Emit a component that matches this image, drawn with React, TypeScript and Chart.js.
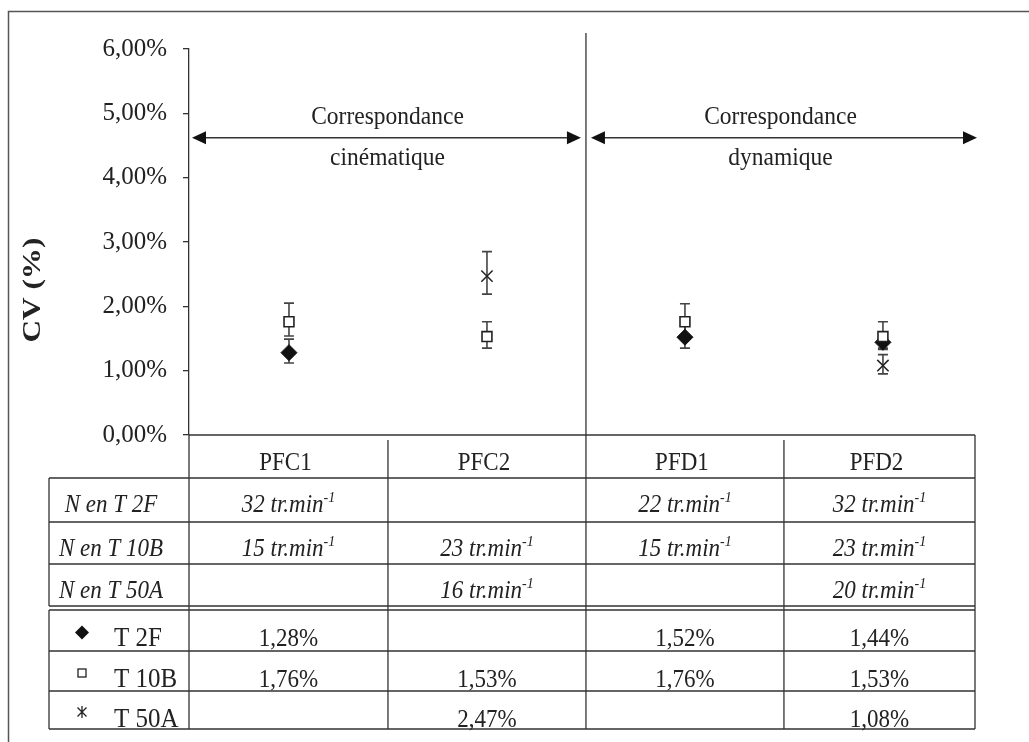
import React, { useEffect, useRef } from 'react';
import { Chart, registerables } from 'chart.js';

Chart.register(...registerables);

const FONT = '"Liberation Serif", "Times New Roman", Times, serif';
const INK = '#222';
const LINE = '#333';
const STRETCH = 1.1;

const categories = ['PFC1', 'PFC2', 'PFD1', 'PFD2'];
const seriesNames = ['T 2F', 'T 10B', 'T 50A'];

const t2fValues = [1.28, null, 1.52, 1.44];
const t2fErrPlus = [0.21, null, 0.2, 0.09];
const t2fErrMinus = [0.16, null, 0.17, 0.09];

const t10bValues = [1.76, 1.53, 1.76, 1.53];
const t10bErrPlus = [0.29, 0.23, 0.28, 0.23];
const t10bErrMinus = [0.22, 0.18, 0.25, 0.2];

const t50aValues = [null, 2.47, null, 1.08];
const t50aErrPlus = [null, 0.38, null, 0.17];
const t50aErrMinus = [null, 0.28, null, 0.13];

const yMin = 0;
const yMax = 6;
const yStep = 1;

const speedLabels = ['N en T 2F', 'N en T 10B', 'N en T 50A'];
const speedT2F = ['32', '', '22', '32'];
const speedT10B = ['15', '23', '15', '23'];
const speedT50A = ['', '16', '', '20'];
const speedUnit = 'tr.min';
const speedExp = '-1';

const zoneLeft = ['Correspondance', 'cinématique'];
const zoneRight = ['Correspondance', 'dynamique'];
const zoneArrowValue = 4.62;
const yTitle = 'CV (%)';

const fmt = (v: number) => v.toFixed(2).replace('.', ',') + '%';

const series = [
  { name: seriesNames[0], values: t2fValues, plus: t2fErrPlus, minus: t2fErrMinus, marker: 'diamond' },
  { name: seriesNames[1], values: t10bValues, plus: t10bErrPlus, minus: t10bErrMinus, marker: 'square' },
  { name: seriesNames[2], values: t50aValues, plus: t50aErrPlus, minus: t50aErrMinus, marker: 'cross' },
];
const speedRows = [speedT2F, speedT10B, speedT50A];

function toPoints(vals: (number | null)[]) {
  const out: { x: number; y: number }[] = [];
  vals.forEach((v, i) => {
    if (v != null) out.push({ x: i, y: v });
  });
  return out;
}

function text(ctx: CanvasRenderingContext2D, s: string, x: number, y: number) {
  ctx.save();
  ctx.translate(x, y);
  ctx.scale(1, STRETCH);
  ctx.fillText(s, 0, 0);
  ctx.restore();
}

function drawMarker(ctx: CanvasRenderingContext2D, kind: string, x: number, y: number) {
  ctx.save();
  ctx.fillStyle = '#111';
  ctx.strokeStyle = '#222';
  ctx.lineWidth = 1.3;
  if (kind === 'diamond') {
    ctx.beginPath();
    ctx.moveTo(x, y - 7);
    ctx.lineTo(x + 7, y);
    ctx.lineTo(x, y + 7);
    ctx.lineTo(x - 7, y);
    ctx.closePath();
    ctx.fill();
  } else if (kind === 'square') {
    ctx.strokeRect(x - 4, y - 4, 8, 8);
  } else {
    ctx.beginPath();
    ctx.moveTo(x - 4.5, y - 4.5);
    ctx.lineTo(x + 4.5, y + 4.5);
    ctx.moveTo(x + 4.5, y - 4.5);
    ctx.lineTo(x - 4.5, y + 4.5);
    ctx.moveTo(x, y - 6);
    ctx.lineTo(x, y + 6);
    ctx.stroke();
  }
  ctx.restore();
}

function drawSpeed(ctx: CanvasRenderingContext2D, cx: number, base: number, num: string) {
  if (!num) return;
  const main = `${num} ${speedUnit}`;
  ctx.font = `italic 23px ${FONT}`;
  const w1 = ctx.measureText(main).width;
  ctx.font = `italic 14px ${FONT}`;
  const w2 = ctx.measureText(speedExp).width;
  const start = cx - (w1 + w2) / 2;
  ctx.textAlign = 'left';
  ctx.textBaseline = 'alphabetic';
  ctx.font = `italic 23px ${FONT}`;
  text(ctx, main, start, base);
  ctx.font = `italic 14px ${FONT}`;
  text(ctx, speedExp, start + w1, base - 10);
}

function drawArrow(ctx: CanvasRenderingContext2D, x1: number, x2: number, y: number) {
  ctx.beginPath();
  ctx.moveTo(x1 + 10, y);
  ctx.lineTo(x2 - 10, y);
  ctx.stroke();
  ctx.beginPath();
  ctx.moveTo(x1, y);
  ctx.lineTo(x1 + 14, y - 6.5);
  ctx.lineTo(x1 + 14, y + 6.5);
  ctx.closePath();
  ctx.fill();
  ctx.beginPath();
  ctx.moveTo(x2, y);
  ctx.lineTo(x2 - 14, y - 6.5);
  ctx.lineTo(x2 - 14, y + 6.5);
  ctx.closePath();
  ctx.fill();
}

const overlayPlugin = {
  id: 'overlay',
  beforeDatasetsDraw(chart: any) {
    const ctx: CanvasRenderingContext2D = chart.ctx;
    const xs = chart.scales.x;
    const ys = chart.scales.y;
    ctx.save();
    ctx.strokeStyle = '#444';
    ctx.lineWidth = 1.6;
    series.forEach((s) => {
      s.values.forEach((v, i) => {
        if (v == null) return;
        const x = xs.getPixelForValue(i);
        const yt = ys.getPixelForValue(v + (s.plus[i] as number));
        const yb = ys.getPixelForValue(v - (s.minus[i] as number));
        ctx.beginPath();
        ctx.moveTo(x, yt);
        ctx.lineTo(x, yb);
        ctx.moveTo(x - 5, yt);
        ctx.lineTo(x + 5, yt);
        ctx.moveTo(x - 5, yb);
        ctx.lineTo(x + 5, yb);
        ctx.stroke();
      });
    });
    ctx.restore();
  },
  afterDraw(chart: any) {
    const ctx: CanvasRenderingContext2D = chart.ctx;
    const { left, right, top, bottom } = chart.chartArea;
    const xs = chart.scales.x;
    const ys = chart.scales.y;
    const cols = [left, xs.getPixelForValue(0.5), xs.getPixelForValue(1.5), xs.getPixelForValue(2.5), right];
    const divider = cols[2];
    const tableLeft = 49;

    ctx.save();
    // outer frame
    ctx.strokeStyle = '#555';
    ctx.lineWidth = 1.5;
    ctx.strokeRect(8.5, 11.5, 1100, 800);

    ctx.strokeStyle = LINE;
    ctx.lineWidth = 1.3;
    // x axis line
    ctx.beginPath();
    ctx.moveTo(left, bottom);
    ctx.lineTo(right, bottom);
    ctx.stroke();

    // divider
    ctx.beginPath();
    ctx.moveTo(divider, top - 16);
    ctx.lineTo(divider, bottom + 294);
    ctx.stroke();

    // zone arrows
    const ay = ys.getPixelForValue(zoneArrowValue);
    ctx.fillStyle = '#111';
    ctx.strokeStyle = '#333';
    ctx.lineWidth = 1.5;
    drawArrow(ctx, left + 3, divider - 5, ay);
    drawArrow(ctx, divider + 5, right + 2, ay);

    ctx.fillStyle = INK;
    ctx.font = `23.5px ${FONT}`;
    ctx.textAlign = 'center';
    ctx.textBaseline = 'alphabetic';
    const lc = (left + divider) / 2;
    const rc = (divider + right) / 2;
    text(ctx, zoneLeft[0], lc, ay - 14);
    text(ctx, zoneLeft[1], lc, ay + 27);
    text(ctx, zoneRight[0], rc, ay - 14);
    text(ctx, zoneRight[1], rc, ay + 27);

    // y title
    ctx.save();
    ctx.translate(40, 290);
    ctx.rotate(-Math.PI / 2);
    ctx.scale(1.25, 1);
    ctx.font = `bold 25px ${FONT}`;
    ctx.textAlign = 'center';
    ctx.textBaseline = 'alphabetic';
    ctx.fillText(yTitle, 0, 0);
    ctx.restore();

    // table geometry
    const hdrB = bottom + 43;
    const nRows = [hdrB, bottom + 87, bottom + 129, bottom + 171];
    const lRows = [bottom + 175, bottom + 216, bottom + 256, bottom + 294];

    ctx.strokeStyle = LINE;
    ctx.lineWidth = 1.3;
    ctx.beginPath();
    // verticals
    ctx.moveTo(left, bottom);
    ctx.lineTo(left, lRows[3]);
    ctx.moveTo(cols[1], bottom + 5);
    ctx.lineTo(cols[1], lRows[3]);
    ctx.moveTo(cols[3], bottom + 5);
    ctx.lineTo(cols[3], lRows[3]);
    ctx.moveTo(right, bottom);
    ctx.lineTo(right, lRows[3]);
    ctx.moveTo(tableLeft, nRows[0]);
    ctx.lineTo(tableLeft, nRows[3]);
    ctx.moveTo(tableLeft, lRows[0]);
    ctx.lineTo(tableLeft, lRows[3]);
    // horizontals
    [...nRows, ...lRows].forEach((y) => {
      ctx.moveTo(tableLeft, y);
      ctx.lineTo(right, y);
    });
    ctx.stroke();

    // header
    ctx.fillStyle = INK;
    ctx.font = `23px ${FONT}`;
    ctx.textAlign = 'center';
    categories.forEach((c, i) => {
      text(ctx, c, (cols[i] + cols[i + 1]) / 2 - 3, bottom + 35);
    });

    // speed rows
    speedLabels.forEach((lab, r) => {
      const base = nRows[r] + 34;
      ctx.font = `italic 23px ${FONT}`;
      ctx.textAlign = 'center';
      text(ctx, lab, 111, base);
      speedRows[r].forEach((n, i) => drawSpeed(ctx, (cols[i] + cols[i + 1]) / 2, base, n));
    });

    // legend/value rows
    series.forEach((s, r) => {
      const base = lRows[r] + 36;
      const mid = (lRows[r] + lRows[r + 1]) / 2;
      drawMarker(ctx, s.marker, 82, mid + 2);
      ctx.fillStyle = INK;
      ctx.font = `25px ${FONT}`;
      ctx.textAlign = 'left';
      text(ctx, s.name, 114, base);
      ctx.textAlign = 'center';
      ctx.font = `23px ${FONT}`;
      s.values.forEach((v, i) => {
        if (v == null) return;
        text(ctx, fmt(v), (cols[i] + cols[i + 1]) / 2, base);
      });
    });
    ctx.restore();
  },
};

export default function App() {
  const ref = useRef<HTMLCanvasElement | null>(null);
  useEffect(() => {
    if (!ref.current) return;
    const chart = new Chart(ref.current, {
      type: 'scatter',
      data: {
        datasets: [
          {
            label: seriesNames[0],
            data: toPoints(t2fValues),
            pointStyle: 'rectRot',
            pointRadius: 8,
            backgroundColor: '#111',
            borderColor: '#111',
            borderWidth: 1,
            order: 2,
          },
          {
            label: seriesNames[1],
            data: toPoints(t10bValues),
            pointStyle: 'rect',
            pointRadius: 7,
            backgroundColor: '#fff',
            borderColor: '#222',
            borderWidth: 1.6,
            order: 1,
          },
          {
            label: seriesNames[2],
            data: toPoints(t50aValues),
            pointStyle: 'crossRot',
            pointRadius: 8,
            backgroundColor: '#222',
            borderColor: '#222',
            borderWidth: 1.5,
            order: 3,
          },
        ],
      },
      options: {
        responsive: false,
        animation: false,
        layout: { padding: { left: 0, top: 49, right: 54, bottom: 307 } },
        plugins: { legend: { display: false }, tooltip: { enabled: false } },
        scales: {
          x: { type: 'linear', display: false, min: -0.505, max: 3.465 },
          y: {
            type: 'linear',
            min: yMin,
            max: yMax,
            afterFit: (s: any) => {
              s.width = 189;
            },
            ticks: {
              stepSize: yStep,
              padding: 16,
              color: INK,
              font: { family: FONT, size: 25 },
              callback: (v: any) => fmt(Number(v)),
            },
            grid: { drawOnChartArea: false, drawTicks: true, tickLength: 6, color: LINE, lineWidth: 1.3 },
            border: { display: true, color: LINE, width: 1.3 },
          },
        },
      },
      plugins: [overlayPlugin],
    } as any);
    return () => chart.destroy();
  }, []);
  return (
    <>
      <style>{`body{margin:0;overflow:hidden;background:#fff}`}</style>
      <canvas ref={ref} width={1029} height={742} style={{ display: 'block' }} />
    </>
  );
}
